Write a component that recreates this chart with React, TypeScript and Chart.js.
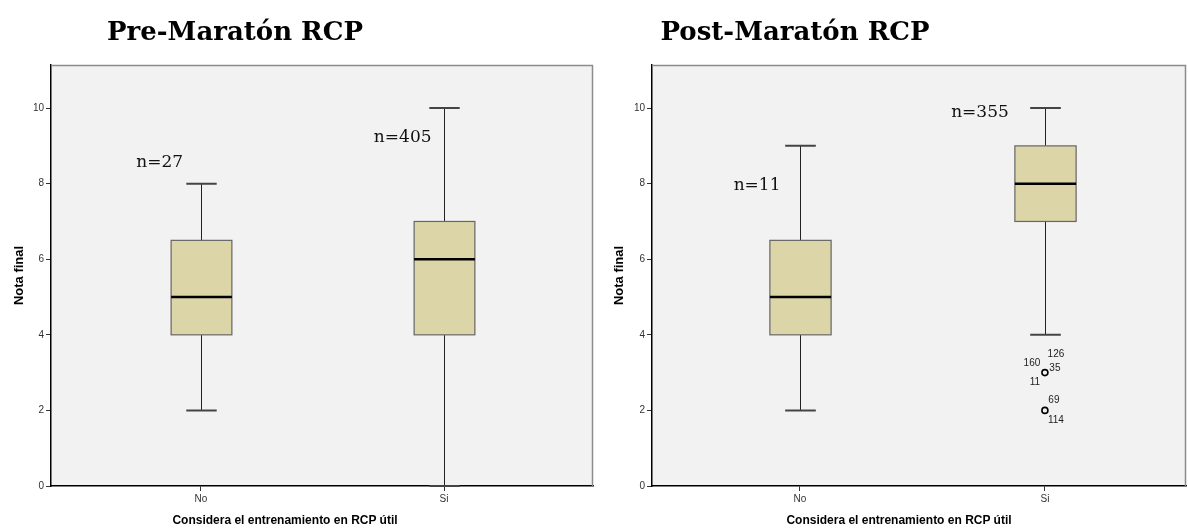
import React, { useEffect, useRef } from 'react';
import { Chart, registerables } from 'chart.js';
Chart.register(...registerables);

// ---------- data ----------
const categories = ['No', 'Si'];
const categoryPositions = [1, 2];
const yTickValues = [0, 2, 4, 6, 8, 10];

const preMin = [2, 0];
const preQ1 = [4, 4];
const preMedian = [5, 6];
const preQ3 = [6.5, 7];
const preMax = [8, 10];
const preCounts = ['n=27', 'n=405'];

const postMin = [2, 4];
const postQ1 = [4, 7];
const postMedian = [5, 8];
const postQ3 = [6.5, 9];
const postMax = [9, 10];
const postCounts = ['n=11', 'n=355'];

const postOutlierX = [2, 2];
const postOutlierY = [3, 2];
const postOutlierLabels = [
  ['126', '160', '35', '11'],
  ['69', '114'],
];

// ---------- layout / style (not data) ----------
const preCountPos = [
  [0.83, 8.55],
  [1.83, 9.23],
];
const postCountPos = [
  [0.825, 7.96],
  [1.735, 9.87],
];
const outlierLabelOffsets = [
  [
    [11, -18],
    [-13, -9],
    [10, -4],
    [-10, 10],
  ],
  [
    [9, -10],
    [11, 10],
  ],
];

const BOX_FILL = '#dbd5a8';
const BG = '#f2f2f2';
const SERIF = '"DejaVu Serif", "Liberation Serif", serif';
const SANS = '"Liberation Sans", Arial, sans-serif';

const boxPlugin = {
  id: 'spssBoxes',
  beforeDraw(chart: any) {
    const { ctx, chartArea: a } = chart;
    ctx.save();
    ctx.fillStyle = BG;
    ctx.fillRect(a.left, a.top, a.right - a.left, a.bottom - a.top);
    ctx.restore();
  },
  beforeDatasetsDraw(chart: any, _args: any, opts: any) {
    const { ctx, chartArea: a } = chart;
    const xs = chart.scales.x;
    const ys = chart.scales.y;
    ctx.save();
    // frame top & right
    ctx.strokeStyle = '#8c8c8c';
    ctx.lineWidth = 1.5;
    ctx.beginPath();
    ctx.moveTo(a.left, a.top + 0.5);
    ctx.lineTo(a.right - 0.5, a.top + 0.5);
    ctx.lineTo(a.right - 0.5, a.bottom);
    ctx.stroke();

    const n = opts.pos.length;
    for (let i = 0; i < n; i++) {
      const cx = Math.round(xs.getPixelForValue(opts.pos[i])) + 0.5;
      const half = xs.getPixelForValue(opts.pos[i] + 0.125) - xs.getPixelForValue(opts.pos[i]);
      const pMin = ys.getPixelForValue(opts.min[i]);
      const pQ1 = ys.getPixelForValue(opts.q1[i]);
      const pMed = ys.getPixelForValue(opts.med[i]);
      const pQ3 = ys.getPixelForValue(opts.q3[i]);
      const pMax = ys.getPixelForValue(opts.max[i]);
      // whiskers
      ctx.strokeStyle = '#222';
      ctx.lineWidth = 1;
      ctx.beginPath();
      ctx.moveTo(cx, pQ3);
      ctx.lineTo(cx, pMax);
      ctx.moveTo(cx, pQ1);
      ctx.lineTo(cx, pMin);
      ctx.stroke();
      // caps
      ctx.strokeStyle = '#444';
      ctx.lineWidth = 2;
      ctx.beginPath();
      ctx.moveTo(cx - half / 2, pMax);
      ctx.lineTo(cx + half / 2, pMax);
      ctx.moveTo(cx - half / 2, pMin);
      ctx.lineTo(cx + half / 2, pMin);
      ctx.stroke();
      // box
      ctx.fillStyle = BOX_FILL;
      ctx.fillRect(cx - half, pQ3, half * 2, pQ1 - pQ3);
      ctx.strokeStyle = '#666';
      ctx.lineWidth = 1.2;
      ctx.strokeRect(cx - half, pQ3, half * 2, pQ1 - pQ3);
      // median
      ctx.strokeStyle = '#000';
      ctx.lineWidth = 2.5;
      ctx.beginPath();
      ctx.moveTo(cx - half, pMed);
      ctx.lineTo(cx + half, pMed);
      ctx.stroke();
    }
    // counts
    ctx.fillStyle = '#111';
    ctx.font = '17px ' + SERIF;
    ctx.textAlign = 'center';
    ctx.textBaseline = 'middle';
    for (let i = 0; i < opts.counts.length; i++) {
      ctx.fillText(
        opts.counts[i],
        xs.getPixelForValue(opts.countPos[i][0]),
        ys.getPixelForValue(opts.countPos[i][1])
      );
    }
    ctx.restore();
  },
  afterDatasetsDraw(chart: any, _args: any, opts: any) {
    if (!opts.outX) return;
    const { ctx } = chart;
    const xs = chart.scales.x;
    const ys = chart.scales.y;
    ctx.save();
    ctx.fillStyle = '#222';
    ctx.font = '10px ' + SANS;
    ctx.textAlign = 'center';
    ctx.textBaseline = 'middle';
    for (let i = 0; i < opts.outX.length; i++) {
      const px = xs.getPixelForValue(opts.outX[i]);
      const py = ys.getPixelForValue(opts.outY[i]);
      opts.outLabels[i].forEach((t: string, j: number) => {
        const off = opts.outOffsets[i][j];
        ctx.fillText(t, px + off[0], py + off[1]);
      });
    }
    ctx.restore();
  },
};

function makeConfig(p: any) {
  return {
    type: 'scatter',
    data: {
      datasets: [
        {
          data: (p.outX || []).map((x: number, i: number) => ({ x, y: p.outY[i] })),
          pointStyle: 'circle',
          pointRadius: 3,
          pointBackgroundColor: 'rgba(255,255,255,0)',
          pointBorderColor: '#000',
          pointBorderWidth: 1.6,
        },
      ],
    },
    options: {
      animation: false,
      responsive: false,
      layout: { autoPadding: false, padding: { top: p.top, right: p.right, left: 0, bottom: 0 } },
      plugins: {
        legend: { display: false },
        tooltip: { enabled: false },
        spssBoxes: {
          pos: categoryPositions,
          min: p.min,
          q1: p.q1,
          med: p.med,
          q3: p.q3,
          max: p.max,
          counts: p.counts,
          countPos: p.countPos,
          outX: p.outX,
          outY: p.outY,
          outLabels: p.outLabels,
          outOffsets: p.outOffsets,
        },
      },
      scales: {
        x: {
          type: 'linear',
          min: p.xMin,
          max: p.xMax,
          afterBuildTicks: (s: any) => {
            s.ticks = categoryPositions.map((v) => ({ value: v }));
          },
          afterFit: (s: any) => {
            s.height = p.xHeight;
          },
          ticks: {
            callback: (v: number) => categories[categoryPositions.indexOf(v)] ?? '',
            color: '#333',
            font: { family: SANS, size: 10 },
            padding: 2,
            maxRotation: 0,
          },
          grid: { display: true, drawOnChartArea: false, drawTicks: true, tickLength: 5, tickColor: '#333' },
          border: { display: true, color: '#000', width: 1.5 },
        },
        y: {
          type: 'linear',
          min: 0,
          max: 11.14,
          afterBuildTicks: (s: any) => {
            s.ticks = yTickValues.map((v) => ({ value: v }));
          },
          afterFit: (s: any) => {
            s.width = p.yWidth;
          },
          ticks: {
            color: '#333',
            font: { family: SANS, size: 10 },
            padding: 2,
          },
          grid: { display: true, drawOnChartArea: false, drawTicks: true, tickLength: 5, tickColor: '#333' },
          border: { display: true, color: '#000', width: 1.5 },
          title: {
            display: true,
            text: 'Nota final',
            color: '#000',
            font: { family: SANS, size: 13, weight: 'bold' },
            padding: { top: 12, bottom: 0 },
          },
        },
      },
    },
    plugins: [boxPlugin],
  };
}

function Panel(props: any) {
  const ref = useRef<HTMLCanvasElement>(null);
  useEffect(() => {
    const chart = new Chart(ref.current as any, makeConfig(props.cfg) as any);
    return () => chart.destroy();
  }, []);
  return (
    <div style={{ position: 'absolute', left: props.left, top: 0, width: props.width, height: 530 }}>
      <canvas ref={ref} width={props.width} height={530} style={{ position: 'absolute', left: 0, top: 0 }} />
      <div
        style={{
          position: 'absolute',
          left: props.titleX,
          top: 15,
          transform: 'translateX(-50%)',
          whiteSpace: 'nowrap',
          font: 'bold 26px ' + SERIF,
          lineHeight: '32px',
          color: '#000',
        }}
      >
        {props.title}
      </div>
      <div
        style={{
          position: 'absolute',
          left: props.xTitleX,
          top: 512,
          transform: 'translateX(-50%)',
          whiteSpace: 'nowrap',
          font: 'bold 12px ' + SANS,
          lineHeight: '16px',
          color: '#000',
        }}
      >
        Considera el entrenamiento en RCP útil
      </div>
    </div>
  );
}

export default function App() {
  const preCfg = {
    top: 65,
    right: 7,
    yWidth: 51,
    xHeight: 44,
    xMin: 0.383,
    xMax: 2.613,
    min: preMin,
    q1: preQ1,
    med: preMedian,
    q3: preQ3,
    max: preMax,
    counts: preCounts,
    countPos: preCountPos,
  };
  const postCfg = {
    top: 65,
    right: 2,
    yWidth: 52,
    xHeight: 44,
    xMin: 0.396,
    xMax: 2.576,
    min: postMin,
    q1: postQ1,
    med: postMedian,
    q3: postQ3,
    max: postMax,
    counts: postCounts,
    countPos: postCountPos,
    outX: postOutlierX,
    outY: postOutlierY,
    outLabels: postOutlierLabels,
    outOffsets: outlierLabelOffsets,
  };
  return (
    <div style={{ position: 'fixed', left: 0, top: 0, width: 1188, height: 530, background: '#fff', overflow: 'hidden' }}>
      <Panel left={0} width={600} cfg={preCfg} title="Pre-Maratón RCP" titleX={235} xTitleX={285} />
      <Panel left={600} width={588} cfg={postCfg} title="Post-Maratón RCP" titleX={195} xTitleX={299} />
    </div>
  );
}
